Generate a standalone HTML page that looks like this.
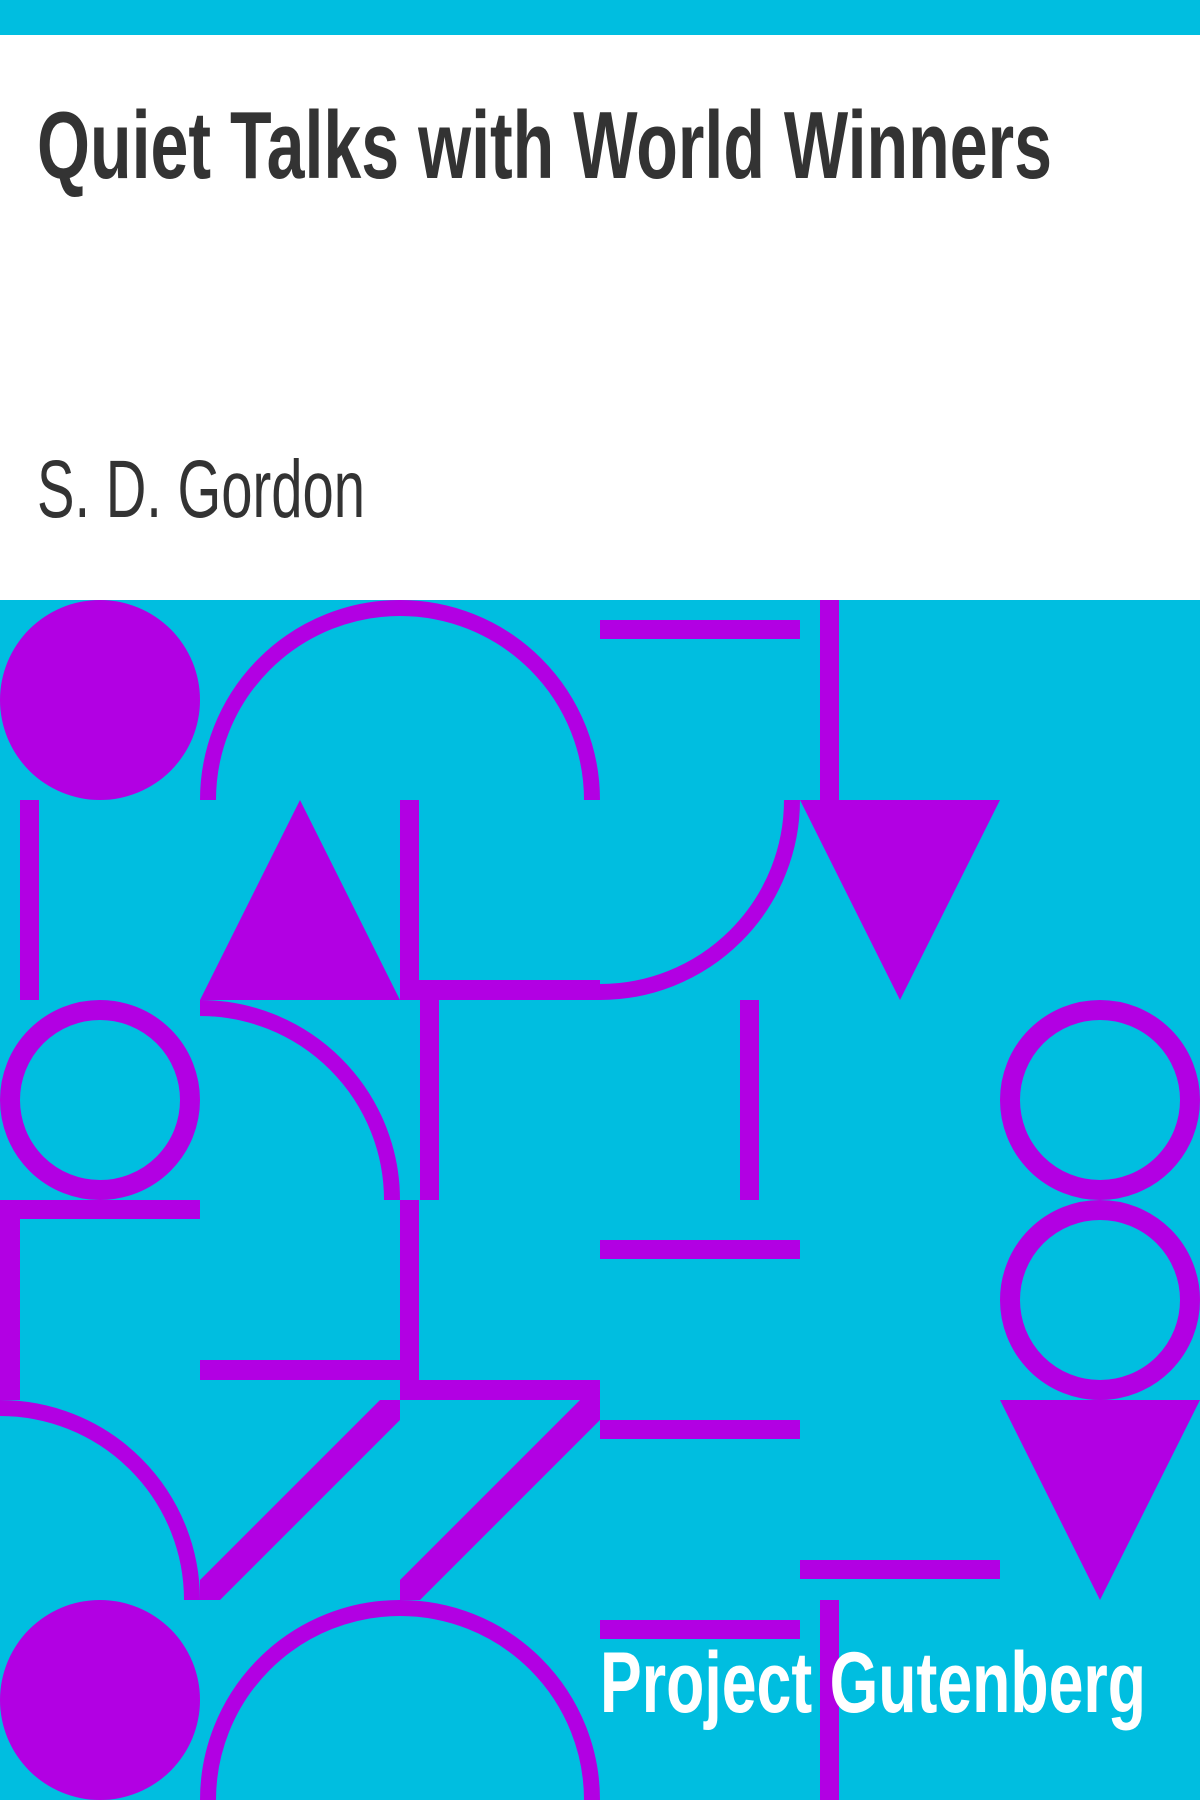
<!DOCTYPE html>
<html><head><meta charset="utf-8"><style>html,body{margin:0;padding:0;background:#fff}svg{display:block}</style></head>
<body>
<svg width="1200" height="1800" viewBox="0 0 1200 1800" xmlns="http://www.w3.org/2000/svg">
<rect x="0" y="0" width="1200" height="35" fill="#00bee0"/>
<text x="37" y="178" font-family="'Liberation Sans Narrow','Liberation Sans',sans-serif" font-weight="bold" font-size="96" fill="#333" textLength="1015" lengthAdjust="spacingAndGlyphs">Quiet Talks with World Winners</text>
<text x="37" y="517" font-family="'Liberation Sans Narrow','Liberation Sans',sans-serif" font-size="82" fill="#333" textLength="328" lengthAdjust="spacingAndGlyphs">S. D. Gordon</text>
<g>
<rect x="0" y="600" width="1200" height="1200" fill="#00bee0"/>
<g fill="#b200e3">
<circle cx="100" cy="700" r="100"/>
<rect x="600" y="620" width="200" height="19"/>
<rect x="820" y="600" width="19" height="200"/>
<rect x="20" y="800" width="19" height="200"/>
<polygon points="300,800 200,1000 400,1000"/>
<rect x="400" y="800" width="19" height="200"/>
<rect x="400" y="980" width="200" height="20"/>
<polygon points="800,800 1000,800 900,1000"/>
<rect x="420" y="1000" width="19" height="200"/>
<rect x="740" y="1000" width="19" height="200"/>
<rect x="0" y="1200" width="200" height="19"/>
<rect x="0" y="1200" width="20" height="200"/>
<rect x="400" y="1200" width="19" height="200"/>
<rect x="600" y="1240" width="200" height="19"/>
<rect x="200" y="1360" width="200" height="20"/>
<rect x="400" y="1380" width="200" height="20"/>
<polygon points="380,1400 400,1400 400,1420 220,1600 200,1600 200,1580"/>
<polygon points="580,1400 600,1400 600,1420 420,1600 400,1600 400,1580"/>
<rect x="600" y="1420" width="200" height="19"/>
<polygon points="1000,1400 1200,1400 1100,1600"/>
<rect x="800" y="1560" width="200" height="19"/>
<rect x="600" y="1620" width="200" height="19"/>
<rect x="820" y="1600" width="19" height="200"/>
<circle cx="100" cy="1700" r="100"/>
</g>
<g fill="none" stroke="#b200e3">
<path d="M208,800 A192,192 0 0 1 592,800" stroke-width="16"/>
<path d="M792,800 A192,192 0 0 1 600,992" stroke-width="16"/>
<circle cx="100" cy="1100" r="90" stroke-width="20"/>
<path d="M200,1008 A192,192 0 0 1 392,1200" stroke-width="16"/>
<circle cx="1100" cy="1100" r="90" stroke-width="20"/>
<circle cx="1100" cy="1300" r="90" stroke-width="20"/>
<path d="M0,1408 A192,192 0 0 1 192,1600" stroke-width="16"/>
<path d="M208,1800 A192,192 0 0 1 592,1800" stroke-width="16"/>
</g>
</g>
<text x="600" y="1712" font-family="'Liberation Sans Narrow','Liberation Sans',sans-serif" font-weight="bold" font-size="86" fill="#fff" textLength="546" lengthAdjust="spacingAndGlyphs">Project Gutenberg</text>
</svg>
</body></html>
